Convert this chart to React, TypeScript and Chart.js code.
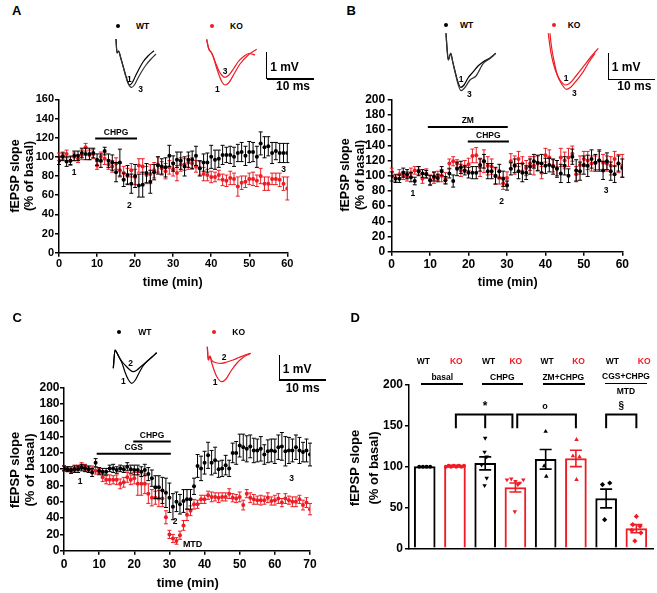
import React, { useEffect, useRef } from 'react';
import { Chart, registerables } from 'chart.js';
Chart.register(...registerables);

const FONT = '"Liberation Sans", Arial, Helvetica, sans-serif';
const RED = '#ee1c24';
const BLACK = '#000000';
Chart.defaults.font.family = FONT;

// ---------- time axes ----------
const minutes60 = [0,1,2,3,4,5,6,7,8,9,10,11,12,13,14,15,16,17,18,19,20,21,22,23,24,25,26,27,28,29,30,31,32,33,34,35,36,37,38,39,40,41,42,43,44,45,46,47,48,49,50,51,52,53,54,55,56,57,58,59,60];
const minutes70 = [0,1,2,3,4,5,6,7,8,9,10,11,12,13,14,15,16,17,18,19,20,21,22,23,24,25,26,27,28,29,30,31,32,33,34,35,36,37,38,39,40,41,42,43,44,45,46,47,48,49,50,51,52,53,54,55,56,57,58,59,60,61,62,63,64,65,66,67,68,69,70];

// ---------- Panel A (CHPG) ----------
const aWT = [96,100,95,96,101,101,104,103,103,104, 97,96,106,96,94,84,94,76,81,72, 80,70,71,83,74,84,91,90,89,101, 93,97,96,90,97,97,101,88,94,94, 100,97,98,102,102,102,100,104,105,101, 105,105,100,114,110,111,104,106,104,104,104];
const aWTerr = [4,4,5,4,5,5,5,6,6,5, 6,7,4,7,8,10,14,7,10,10, 12,12,13,10,12,8,9,8,10,11, 8,8,9,10,8,9,10,8,9,10, 12,10,9,10,8,9,10,9,10,10, 11,10,11,12,11,10,11,9,10,10,10];
const aKO = [100,101,103,96,100,98,102,110,102,103, 91,100,98,92,90,93,86,83,80,86, 79,91,90,81,82,86,92,88,85,89, 87,83,92,92,94,93,90,88,82,81, 79,79,81,76,75,78,77,69,73,74, 77,77,75,80,72,72,77,77,76,72,67];
const aKOerr = [4,4,4,5,4,4,5,4,5,5, 4,5,6,5,6,6,7,7,8,7, 8,7,8,9,10,8,8,7,8,7, 7,8,7,6,7,6,6,7,7,6, 6,5,5,6,6,7,6,10,7,6, 6,7,6,8,7,7,6,6,7,7,12];

// ---------- Panel B (ZM + CHPG) ----------
const bWT = [99,96,96,104,102,98,93,106,103,102, 94,99,97,106,94,103,93,109,111,107, 104,104,104,114,119,106,106,100,106,96, 87,109,113,106,104,104,112,119,117,116, 113,114,112,109,103,113,100,125,107,106, 114,113,122,117,120,107,119,106,102,116,110];
const bWTerr = [6,5,5,6,6,6,5,6,5,5, 6,6,5,6,5,6,8,9,8,6, 7,8,8,8,9,10,10,11,9,10, 6,8,9,10,12,9,10,9,10,12, 10,9,10,11,12,12,9,10,14,12, 12,14,12,11,14,12,11,12,11,10,12];
const bKO = [105,97,102,100,99,104,107,107,96,103, 94,97,100,100,97,116,119,116,107,112, 115,126,127,111,119,113,112,99,97,90, 97,119,114,122,116,110,116,113,116,104, 127,124,113,110,124,120,124,129,102,114, 122,120,116,117,120,117,116,113,122,116,113];
const bKOerr = [5,5,6,5,6,6,5,5,6,6, 7,7,6,8,7,6,6,5,8,8, 8,9,10,12,15,12,10,10,8,8, 8,10,12,10,9,10,9,12,10,8, 9,10,8,10,12,11,12,10,10,12, 10,12,10,9,12,11,10,12,10,12,15];

// ---------- Panel C (CGS + CHPG) ----------
const cWT = [101,100,99,100,100,102,101,100,96,108, 98,97,97,101,101,99,101,100,103,100, 99,99,97,99,94,89,78,78,74,71, 65,54,60,57,61,63,63,79,104,101, 108,117,108,111,100,101,105,101,120,120, 129,127,125,128,123,123,125,118,122,123, 122,127,128,122,123,123,127,123,121,123,118];
const cWTerr = [3,3,4,4,4,4,4,4,5,5, 4,4,4,4,5,4,4,4,5,5, 6,6,6,7,8,10,14,14,16,18, 18,16,12,12,14,12,12,10,14,15, 14,16,15,16,10,10,12,10,12,14, 14,16,16,14,15,14,15,12,14,14, 15,15,17,18,16,14,15,16,12,14,14];
const cKO = [101,100,98,101,102,104,102,100,100,98, 97,90,87,87,87,87,82,84,90,87, 89,82,82,82,70,65,65,64,64,41, 20,15,12,19,31,44,49,57,57,63, 63,68,66,66,65,66,66,70,65,64, 66,56,70,65,63,62,62,62,65,61, 62,64,59,64,62,60,60,63,56,59,51];
const cKOerr = [3,3,3,4,3,4,4,3,4,4, 4,5,5,6,5,6,6,6,6,6, 7,14,14,12,12,10,8,10,10,8, 5,5,4,5,6,7,6,6,5,5, 5,5,6,5,6,5,5,6,5,5, 6,6,5,6,6,5,6,5,6,5, 6,6,5,6,5,6,6,5,6,6,7];

// ---------- Panel D (summary) ----------
const barIndex = [0,1,2,3,4,5,6,7];
const barGenotype = ['WT','KO','WT','KO','WT','KO','WT','KO'];
const meansD = [100,101,104,74.5,109,110,61,24];
const semD = [0,0.6,8,5.5,12,10,11.5,5];
const ptsWTbasal = [100,100,100,100];
const jitWTbasal = [-0.18,-0.06,0.06,0.18];
const ptsKObasal = [100,101,100,101,100,101,100,101];
const jitKObasal = [-0.3,-0.21,-0.13,-0.04,0.04,0.13,0.21,0.3];
const ptsWTchpg = [135,118,112,102,86,77];
const jitWTchpg = [0,-0.02,0.05,-0.12,0.05,-0.02];
const ptsKOchpg = [84,85,82,80,84,78,45];
const jitKOchpg = [-0.28,-0.14,0,0.14,0.26,0.08,-0.02];
const ptsWTzm = [143,101,88];
const jitWTzm = [0,-0.05,0.02];
const ptsKOzm = [133,113,112,84];
const jitKOzm = [0.02,-0.1,0.12,0.02];
const ptsWTcgs = [78,80,35];
const jitWTcgs = [-0.12,0.12,-0.05];
const ptsKOcgs = [39,29,27,22,19,9];
const jitKOcgs = [0,-0.12,0.12,-0.15,0.15,-0.05];

// ---------- fEPSP traces (local px-like units: x ms-ish, y mV-ish) ----------
const trAWT1 = [[6,-3],[7,-17],[8.5,-15],[10.5,-21],[13,-30],[15,-37],[17.5,-45],[19.5,-49],[22,-47],[25,-41],[29,-33],[33,-26],[38,-20],[44,-14.7]];
const trAWT3 = [[6,-3],[7,-17],[8.5,-15],[10.5,-21],[13,-30],[15,-37.5],[17.5,-46],[20,-50.5],[21.5,-51.3],[24,-49.5],[28,-42],[32,-35],[36,-29],[41,-23],[46,-18]];
const trAKO1 = [[6.7,-3.3],[8,-10],[9.3,-14],[11,-16],[13,-20],[16,-30],[19,-39],[22,-46],[25,-49],[29,-46.5],[34,-38],[40,-28],[48.3,-19],[56.7,-13.3]];
const trAKO3 = [[6.7,-3.3],[8,-10],[9.3,-14],[11,-16],[13,-20],[16,-28],[19,-35],[22,-39.5],[25,-41.3],[29,-39],[34,-32],[38,-26],[43.3,-20.7],[49,-17.5],[55,-19]];
const trBWT1 = [[6,-5.3],[7,-20],[8.3,-32],[10.7,-25.3],[12.7,-33.7],[15,-43],[18,-54],[20.7,-59.3],[24,-57],[28,-50],[33.3,-43.7],[38,-38],[43.3,-33.7],[50,-30],[55.7,-25.3]];
const trBWT3 = [[6,-5.3],[7,-20],[8.3,-32],[10.7,-25.3],[12.7,-33.7],[15,-44],[18,-56],[21,-62.7],[24.5,-60],[30,-52],[36,-48],[43.3,-35.3],[50,-30.5],[55.7,-25.3]];
const trBKO1 = [[8.3,-5.3],[9.5,-15],[11,-25],[13,-34],[16,-44],[20,-52],[25.7,-57],[30,-55],[36,-48],[43.3,-38.7],[50,-30],[58.3,-20.3]];
const trBKO3 = [[10,-5.3],[11,-15],[12.5,-25],[14.5,-35],[17,-46],[21,-55],[26.7,-61.3],[31,-59],[37,-52],[43.3,-43.7],[49,-34],[55,-25.3]];
const trCWT1 = [[5.3,-23.3],[7,-5],[9,-8],[11,-12],[14,-18],[17,-27],[20,-34],[23.7,-38.3],[27,-35.5],[31,-28],[35,-21],[38.7,-16.7],[44,-12],[48.7,-7.7]];
const trCWT2 = [[5.3,-23.3],[7,-5],[9,-8],[11,-12],[14,-16.5],[18,-21],[21.5,-24.5],[25.3,-26.7],[29,-25],[33,-21.5],[38.7,-16.7],[44,-12],[48.7,-7.7]];
const trCKO1 = [[5.3,-6.7],[6.3,-20],[8,-16],[9.5,-22],[12,-30],[15,-37],[19.7,-41.7],[24,-39],[29,-31],[35,-23],[41,-17.5],[45,-15],[48.7,-13.3]];
const trCKO2 = [[5.3,-6.7],[6.3,-20],[8,-16],[9.5,-20],[12,-22],[15,-23],[19.7,-23.3],[25,-22],[31,-20],[37,-17.5],[43,-15],[48.7,-13.3]];

// ---------- helpers ----------
const toXY = (xs: number[], ys: number[]) => xs.map((x, i) => ({ x, y: ys[i] }));
const pairs = (p: number[][]) => p.map(([x, y]) => ({ x, y }));

const errorBarPlugin: any = {
  id: 'errbars',
  beforeDatasetDraw(chart: any, args: any) {
    const ds = chart.data.datasets[args.index];
    if (ds.errors && !ds.errAfter) drawErr(chart, args, ds);
  },
  afterDatasetDraw(chart: any, args: any) {
    const ds = chart.data.datasets[args.index];
    if (ds.errors && ds.errAfter) drawErr(chart, args, ds);
  },
};
function drawErr(chart: any, args: any, ds: any) {
  const meta = args.meta;
  const ys = chart.scales[meta.yAxisID];
  const ctx = chart.ctx;
  ctx.save();
  ctx.lineWidth = ds.errWidth || 1;
  const cap = ds.errCap || 2;
  meta.data.forEach((el: any, i: number) => {
    const e = ds.errors[i];
    const v = ds.data[i].y;
    if (e == null || !e) return;
    const c = Array.isArray(ds.errColor) ? ds.errColor[i] : ds.errColor;
    ctx.strokeStyle = c;
    const top = ys.getPixelForValue(v + e);
    const bot = ys.getPixelForValue(v - e);
    ctx.beginPath();
    ctx.moveTo(el.x, top); ctx.lineTo(el.x, bot);
    ctx.moveTo(el.x - cap, top); ctx.lineTo(el.x + cap, top);
    ctx.moveTo(el.x - cap, bot); ctx.lineTo(el.x + cap, bot);
    ctx.stroke();
  });
  ctx.restore();
}

function makeAnnot(bars: any[], labels: any[], brackets: any[] = []) {
  return {
    id: 'annot',
    afterDatasetsDraw(chart: any) {
      const { ctx } = chart;
      const xs = chart.scales.x, ys = chart.scales.y;
      ctx.save();
      ctx.fillStyle = BLACK;
      ctx.strokeStyle = BLACK;
      bars.forEach((b) => {
        const p1 = xs.getPixelForValue(b.x1), p2 = xs.getPixelForValue(b.x2), py = ys.getPixelForValue(b.y);
        ctx.lineWidth = 2;
        ctx.beginPath(); ctx.moveTo(p1, py); ctx.lineTo(p2, py); ctx.stroke();
        ctx.font = `bold 8.5px ${FONT}`;
        ctx.textAlign = 'center'; ctx.textBaseline = 'bottom';
        ctx.fillText(b.text, (p1 + p2) / 2, py - 2);
      });
      brackets.forEach((b) => {
        const p1 = xs.getPixelForValue(b.x1), p2 = xs.getPixelForValue(b.x2);
        const py = ys.getPixelForValue(b.y), py2 = ys.getPixelForValue(b.y2);
        ctx.lineWidth = 2;
        ctx.beginPath();
        ctx.moveTo(p1, py2); ctx.lineTo(p1, py); ctx.lineTo(p2, py); ctx.lineTo(p2, py2);
        if (b.mid != null) { const pm = xs.getPixelForValue(b.mid); ctx.moveTo(pm, py); ctx.lineTo(pm, py2); }
        ctx.stroke();
      });
      labels.forEach((l) => {
        ctx.font = `bold ${l.size || 8.5}px ${FONT}`;
        ctx.textAlign = 'center'; ctx.textBaseline = 'middle';
        ctx.fillText(l.text, xs.getPixelForValue(l.x), ys.getPixelForValue(l.y));
      });
      ctx.restore();
    },
  };
}

function axisCommon(size: number, pad: number, tickLen: number) {
  return {
    ticks: { color: BLACK, font: { family: FONT, size, weight: 'bold' }, padding: pad, autoSkip: false, maxRotation: 0 },
    grid: { drawOnChartArea: false, color: BLACK, tickLength: tickLen, lineWidth: 1.5 },
    border: { color: BLACK, width: 1.5 },
  };
}

function timeConfig(p: any) {
  const xc = axisCommon(p.tickSize, p.xPad, 4);
  const yc = axisCommon(p.tickSize, p.yPad, 4);
  return {
    type: 'scatter',
    data: {
      datasets: [
        { label: 'WT', data: toXY(p.minutes, p.wt), errors: p.wtErr, errColor: BLACK, errCap: 2, backgroundColor: BLACK, borderColor: BLACK, pointRadius: 2, pointBorderWidth: 0 },
        { label: 'KO', data: toXY(p.minutes, p.ko), errors: p.koErr, errColor: RED, errCap: 2, backgroundColor: RED, borderColor: RED, pointRadius: 2, pointBorderWidth: 0 },
      ],
    },
    options: {
      responsive: false, animation: false, events: [],
      layout: { padding: { top: p.padTop, right: p.padRight, left: 0, bottom: 0 } },
      plugins: { legend: { display: false }, tooltip: { enabled: false } },
      scales: {
        x: { type: 'linear', min: 0, max: p.xmax, ...xc, ticks: { ...xc.ticks, stepSize: 10 }, afterFit: (s: any) => { s.height = p.xHeight; } },
        y: { type: 'linear', min: 0, max: p.ymax, ...yc, ticks: { ...yc.ticks, stepSize: p.ystep }, afterFit: (s: any) => { s.width = p.yWidth; } },
      },
    },
    plugins: [errorBarPlugin, makeAnnot(p.bars, p.labels)],
  };
}

function traceConfig(w: number, h: number, curves: any[]) {
  return {
    type: 'scatter',
    data: {
      datasets: curves.map((c) => ({
        data: pairs(c.pts), showLine: true, borderColor: c.color, borderWidth: 1.2,
        pointRadius: 0, cubicInterpolationMode: 'monotone', clip: false,
      })),
    },
    options: {
      responsive: false, animation: false, events: [],
      layout: { padding: 0 },
      plugins: { legend: { display: false }, tooltip: { enabled: false } },
      scales: { x: { type: 'linear', min: 0, max: w, display: false }, y: { type: 'linear', min: -h, max: 0, display: false } },
    },
  };
}

function summaryConfig() {
  const colors = barGenotype.map((g) => (g === 'WT' ? BLACK : RED));
  const sc = (ys: number[], jit: number[], idx: number, style: string, rot = 0) => ({
    type: 'scatter',
    data: ys.map((y, i) => ({ x: idx + jit[i], y })),
    backgroundColor: colors[idx], borderColor: colors[idx], pointRadius: style === 'circle' ? 2 : 2.6,
    pointBorderWidth: 0, pointStyle: style, rotation: rot,
  });
  const yc = axisCommon(12, 2, 4);
  return {
    type: 'bar',
    data: {
      datasets: [
        sc(ptsWTbasal, jitWTbasal, 0, 'circle'),
        sc(ptsKObasal, jitKObasal, 1, 'circle'),
        sc(ptsWTchpg, jitWTchpg, 2, 'triangle', 180),
        sc(ptsKOchpg, jitKOchpg, 3, 'triangle', 180),
        sc(ptsWTzm, jitWTzm, 4, 'triangle'),
        sc(ptsKOzm, jitKOzm, 5, 'triangle'),
        sc(ptsWTcgs, jitWTcgs, 6, 'rectRot'),
        sc(ptsKOcgs, jitKOcgs, 7, 'rectRot'),
        {
          type: 'bar', data: toXY(barIndex, meansD), errors: semD, errColor: colors, errAfter: true, errCap: 6, errWidth: 1.6,
          backgroundColor: '#ffffff', borderColor: colors, borderWidth: 2, barThickness: 21,
        },
      ],
    },
    options: {
      responsive: false, animation: false, events: [],
      layout: { padding: { top: 35, right: 0, left: 0, bottom: 0 } },
      plugins: { legend: { display: false }, tooltip: { enabled: false } },
      scales: {
        x: {
          type: 'linear', min: -0.52, max: 7.55, offset: false,
          ticks: { display: false }, grid: { display: false, offset: false },
          border: { display: true, color: BLACK, width: 1.5 },
          afterFit: (s: any) => { s.height = 44.7; },
        },
        y: { type: 'linear', min: 0, max: 200, ...yc, ticks: { ...yc.ticks, stepSize: 50 }, afterFit: (s: any) => { s.width = 79; } },
      },
    },
    plugins: [errorBarPlugin, makeAnnot([], [
      { x: 2, y: 174, text: '*', size: 12 },
      { x: 3.98, y: 174, text: 'o', size: 9 },
      { x: 6.5, y: 174, text: '§', size: 10 },
    ], [
      { x1: 1.03, x2: 2.9, mid: 2, y: 164, y2: 147 },
      { x1: 3.06, x2: 5, y: 164, y2: 147 },
      { x1: 6, x2: 7, y: 164, y2: 147 },
    ])],
  };
}

// ---------- React pieces ----------
function ChartCanvas({ left, top, width, height, make }: any) {
  const ref = useRef<HTMLCanvasElement>(null);
  useEffect(() => {
    const chart = new Chart(ref.current as any, make());
    return () => chart.destroy();
  }, []);
  return <canvas ref={ref} width={width} height={height} style={{ position: 'absolute', left, top, width, height }} />;
}

const Txt = ({ x, y, t, size = 8.5, color = BLACK, mode = 'left' }: any) => (
  <div style={{
    position: 'absolute', left: x, top: y, fontSize: size, lineHeight: 1, color, whiteSpace: 'nowrap', fontWeight: 'bold',
    transform: mode === 'rot' ? 'translate(-50%,-50%) rotate(-90deg)' : mode === 'center' ? 'translate(-50%,-50%)' : 'translateY(-50%)',
  }}>{t}</div>
);
const Dot = ({ x, y, r = 2, color }: any) => (
  <div style={{ position: 'absolute', left: x - r, top: y - r, width: 2 * r, height: 2 * r, borderRadius: '50%', background: color }} />
);
const Line = ({ x1, y1, x2, y2, w = 1.6, color = BLACK }: any) => (
  <div style={{
    position: 'absolute', background: color,
    left: x1 === x2 ? x1 - w / 2 : x1, top: y1 === y2 ? y1 - w / 2 : y1,
    width: x1 === x2 ? w : x2 - x1, height: y1 === y2 ? w : y2 - y1,
  }} />
);
const ScaleBar = ({ x, y1, y2, x2, mvY, msX, msY }: any) => (
  <>
    <Line x1={x} y1={y1} x2={x} y2={y2} />
    <Line x1={x} y1={y2} x2={x2} y2={y2} />
    <Txt x={x + 3.5} y={mvY} t="1 mV" size={12} />
    <Txt x={msX} y={msY} t="10 ms" size={12} />
  </>
);

export default function App() {
  return (
    <div style={{ position: 'absolute', left: 0, top: 0, width: 657, height: 593, background: '#fff', overflow: 'hidden', fontFamily: FONT }}>
      {/* Panel A */}
      <Txt x={12} y={9.5} t="A" size={13} />
      <Dot x={118.3} y={26} color={BLACK} />
      <Txt x={136} y={26} t="WT" />
      <Dot x={212.3} y={25.5} color={RED} />
      <Txt x={230} y={25.5} t="KO" />
      <ChartCanvas left={110} top={36} width={50} height={56} make={() => traceConfig(50, 56, [{ pts: trAWT3, color: '#333' }, { pts: trAWT1, color: BLACK }])} />
      <ChartCanvas left={200} top={36} width={60} height={56} make={() => traceConfig(60, 56, [{ pts: trAKO1, color: RED }, { pts: trAKO3, color: RED }])} />
      <Txt x={129.3} y={79} t="1" mode="center" />
      <Txt x={140.7} y={89.3} t="3" mode="center" />
      <Txt x={225} y={70.7} t="3" mode="center" />
      <Txt x={217.3} y={89.3} t="1" mode="center" />
      <ScaleBar x={266.7} y1={51.7} y2={79} x2={314} mvY={66.7} msX={276} msY={85.5} />
      <ChartCanvas left={0} top={90} width={330} height={210} make={() => timeConfig({
        minutes: minutes60, wt: aWT, wtErr: aWTerr, ko: aKO, koErr: aKOerr, xmax: 60, ymax: 160, ystep: 20,
        yWidth: 59, xHeight: 47.3, padTop: 9.3, padRight: 42.7, tickSize: 11, yPad: 1, xPad: 1,
        bars: [{ x1: 9.5, x2: 20.5, y: 119, text: 'CHPG' }],
        labels: [{ x: 4, y: 84, text: '1' }, { x: 18.5, y: 49, text: '2' }, { x: 59, y: 87, text: '3' }],
      })} />
      <Txt x={15} y={175.7} t="fEPSP slope" size={12.5} mode="rot" />
      <Txt x={29} y={175.7} t="(% of basal)" size={12.5} mode="rot" />
      <Txt x={172.7} y={281.7} t="time (min)" size={12.5} mode="center" />

      {/* Panel B */}
      <Txt x={346.5} y={10} t="B" size={13} />
      <Dot x={445.7} y={25} color={BLACK} />
      <Txt x={460} y={25} t="WT" />
      <Dot x={554} y={25} color={RED} />
      <Txt x={567.7} y={25} t="KO" />
      <ChartCanvas left={440} top={28} width={60} height={68} make={() => traceConfig(60, 68, [{ pts: trBWT3, color: '#333' }, { pts: trBWT1, color: BLACK }])} />
      <ChartCanvas left={540} top={28} width={62} height={68} make={() => traceConfig(62, 68, [{ pts: trBKO1, color: RED }, { pts: trBKO3, color: RED }])} />
      <Txt x={461} y={79.3} t="1" mode="center" />
      <Txt x={469.3} y={94} t="3" mode="center" />
      <Txt x={566} y={78.3} t="1" mode="center" />
      <Txt x={574.3} y={92.7} t="3" mode="center" />
      <ScaleBar x={608.3} y1={52.7} y2={79.3} x2={655} mvY={66.7} msX={617.3} msY={86} />
      <ChartCanvas left={330} top={90} width={327} height={210} make={() => timeConfig({
        minutes: minutes60, wt: bWT, wtErr: bWTerr, ko: bKO, koErr: bKOerr, xmax: 60, ymax: 200, ystep: 20,
        yWidth: 61.7, xHeight: 48.3, padTop: 8.3, padRight: 34.7, tickSize: 12, yPad: 2.5, xPad: 2,
        bars: [{ x1: 9.4, x2: 30.2, y: 164, text: 'ZM' }, { x1: 19.8, x2: 30.5, y: 145, text: 'CHPG' }],
        labels: [{ x: 5.5, y: 76, text: '1' }, { x: 28.6, y: 66, text: '2' }, { x: 55.8, y: 80, text: '3' }],
      })} />
      <Txt x={345} y={175} t="fEPSP slope" size={12.5} mode="rot" />
      <Txt x={359.5} y={175} t="(% of basal)" size={12.5} mode="rot" />
      <Txt x={507.7} y={282.3} t="time (min)" size={12.5} mode="center" />

      {/* Panel C */}
      <Txt x={12.5} y={317} t="C" size={13} />
      <Dot x={119.3} y={331.7} color={BLACK} />
      <Txt x={138.3} y={331.7} t="WT" />
      <Dot x={213.7} y={331.7} color={RED} />
      <Txt x={232.3} y={331.7} t="KO" />
      <ChartCanvas left={108} top={345} width={54} height={45} make={() => traceConfig(54, 45, [{ pts: trCWT1, color: BLACK }, { pts: trCWT2, color: BLACK }])} />
      <ChartCanvas left={202} top={340} width={56} height={50} make={() => traceConfig(56, 50, [{ pts: trCKO1, color: RED }, { pts: trCKO2, color: RED }])} />
      <Txt x={130.7} y={362.7} t="2" mode="center" />
      <Txt x={123.3} y={381} t="1" mode="center" />
      <Txt x={224} y={356.7} t="2" mode="center" />
      <Txt x={215} y={381.7} t="1" mode="center" />
      <ScaleBar x={279.3} y1={355} y2={380} x2={326} mvY={369} msX={285.7} msY={387.5} />
      <ChartCanvas left={0} top={380} width={330} height={213} make={() => timeConfig({
        minutes: minutes70, wt: cWT, wtErr: cWTerr, ko: cKO, koErr: cKOerr, xmax: 70, ymax: 200, ystep: 20,
        yWidth: 64, xHeight: 42.3, padTop: 7.3, padRight: 20, tickSize: 12, yPad: 0.5, xPad: 3,
        bars: [{ x1: 9.3, x2: 30.4, y: 119, text: 'CGS' }, { x1: 19.7, x2: 30.4, y: 134, text: 'CHPG' }],
        labels: [{ x: 4.6, y: 84.5, text: '1' }, { x: 31.6, y: 35.5, text: '2' }, { x: 36.6, y: 8, text: 'MTD', size: 9 }, { x: 64.8, y: 88, text: '3' }],
      })} />
      <Txt x={13.5} y={470} t="fEPSP slope" size={13} mode="rot" />
      <Txt x={29} y={470} t="(% of basal)" size={13} mode="rot" />
      <Txt x={187.7} y={581.7} t="time (min)" size={13} mode="center" />

      {/* Panel D */}
      <Txt x={350.5} y={316.7} t="D" size={13} />
      {[423.3, 488.7, 547, 612.3].map((x, i) => <Txt key={'w' + i} x={x} y={361} t="WT" mode="center" />)}
      {[456.3, 515.8, 578.5, 644.2].map((x, i) => <Txt key={'k' + i} x={x} y={361} t="KO" color={RED} mode="center" />)}
      <Txt x={442.3} y={377} t="basal" mode="center" />
      <Line x1={420.7} y1={384} x2={462.7} y2={384} />
      <Txt x={502.3} y={377} t="CHPG" mode="center" />
      <Line x1={481.7} y1={384} x2={523.3} y2={384} />
      <Txt x={563.3} y={377} t="ZM+CHPG" mode="center" />
      <Line x1={542.7} y1={384} x2={585} y2={384} />
      <Txt x={626} y={376} t="CGS+CHPG" mode="center" />
      <Line x1={605.3} y1={383.3} x2={646.7} y2={383.3} />
      <Txt x={626} y={390.7} t="MTD" mode="center" />
      <ChartCanvas left={330} top={350} width={327} height={243} make={summaryConfig} />
      <Txt x={354.3} y={468.3} t="fEPSP slope" size={13} mode="rot" />
      <Txt x={373.3} y={468.3} t="(% of basal)" size={13} mode="rot" />
    </div>
  );
}
